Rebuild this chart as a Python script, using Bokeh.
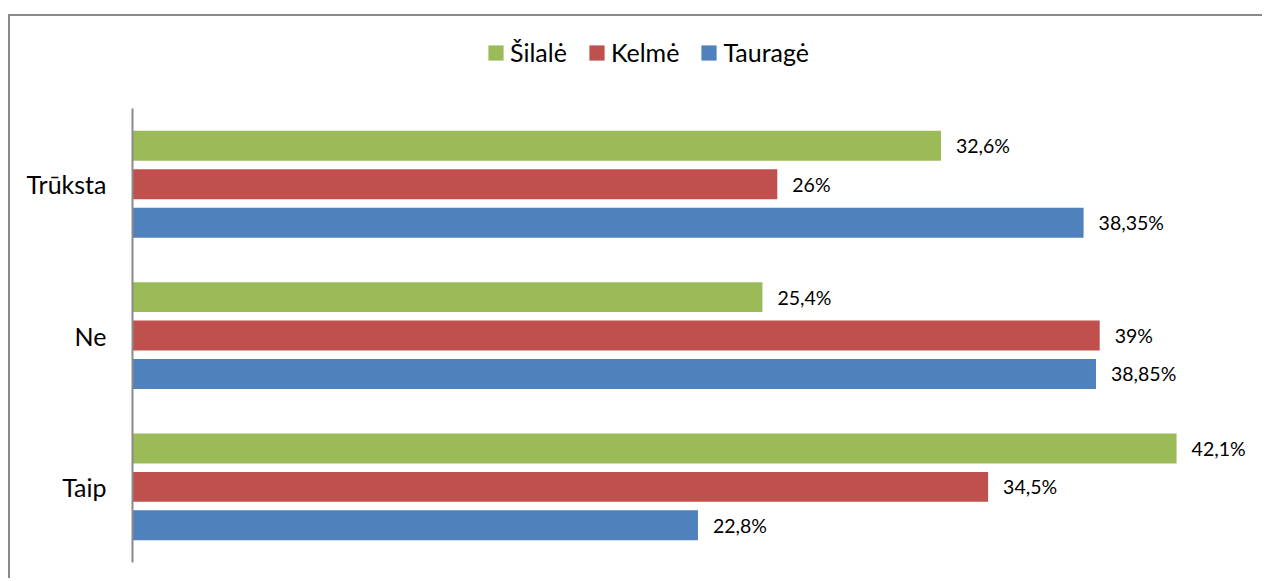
from bokeh.plotting import figure
from bokeh.models import ColumnDataSource, Range1d, Legend, LegendItem, FixedTicker
from bokeh.core.properties import value
from bokeh.embed import file_html
from bokeh.resources import INLINE

categories = ["Trūksta", "Ne", "Taip"]
series = ["Šilalė", "Kelmė", "Tauragė"]
silale = [32.6, 25.4, 42.1]
kelme = [26.0, 39.0, 34.5]
taurage = [38.35, 38.85, 22.8]
silale_labels = ["32,6%", "25,4%", "42,1%"]
kelme_labels = ["26%", "39%", "34,5%"]
taurage_labels = ["38,35%", "38,85%", "22,8%"]
colors = ["#9BBB59", "#C0504D", "#4F81BD"]

FONT = "Lato"
n = len(categories)
# category centres on a numeric scale: top category highest
centres = [n - 0.5 - i for i in range(n)]
offsets = [0.254, 0.0, -0.254]

src = ColumnDataSource(dict(
    s0=silale, s1=kelme, s2=taurage,
    l0=silale_labels, l1=kelme_labels, l2=taurage_labels,
    y0=[c + offsets[0] for c in centres],
    y1=[c + offsets[1] for c in centres],
    y2=[c + offsets[2] for c in centres],
))

p = figure(
    width=1254, height=564,
    y_range=Range1d(0, 3.609),
    x_range=Range1d(0, 45),
    output_backend="svg", toolbar_location=None,
    min_border_left=122, min_border_right=16, min_border_top=0, min_border_bottom=18,
)
p.margin = (14, 0, 0, 8)
p.styles = {"border-left": "2px solid #8a8a8a", "border-top": "2px solid #8a8a8a"}

p.outline_line_color = None
p.grid.visible = False
p.xaxis.visible = False
p.yaxis.bounds = (0, n)
p.yaxis.ticker = FixedTicker(ticks=centres)
p.yaxis.major_label_overrides = {c: cat for c, cat in zip(centres, categories)}
p.yaxis.axis_line_color = "#8a8a8a"
p.yaxis.axis_line_width = 2
p.yaxis.major_tick_line_color = None
p.yaxis.minor_tick_line_color = None
p.yaxis.major_label_standoff = 20
p.yaxis.major_label_text_font = FONT
p.yaxis.major_label_text_font_size = "25px"
p.yaxis.major_label_text_color = "#000000"

renderers = []
for i in range(3):
    r = p.hbar(y="y%d" % i, right="s%d" % i, left=0,
               height=0.198, source=src, fill_color=colors[i], line_color=None)
    renderers.append(r)
    p.text(x="s%d" % i, y="y%d" % i, text="l%d" % i,
           source=src, x_offset=15, text_baseline="middle", text_align="left",
           text_font=value(FONT), text_font_size="19.5px", text_color="#000000")

legend = Legend(
    items=[LegendItem(label=series[i], renderers=[renderers[i]]) for i in range(3)],
    orientation="horizontal", location=(354, 495),
    glyph_width=19, glyph_height=19, label_standoff=5, spacing=20,
    padding=0, margin=0, border_line_color=None, background_fill_alpha=0,
    label_text_font=FONT, label_text_font_size="25px", label_text_color="#000000",
)
p.add_layout(legend, "center")

open("out.html", "w").write(file_html(p, INLINE))
